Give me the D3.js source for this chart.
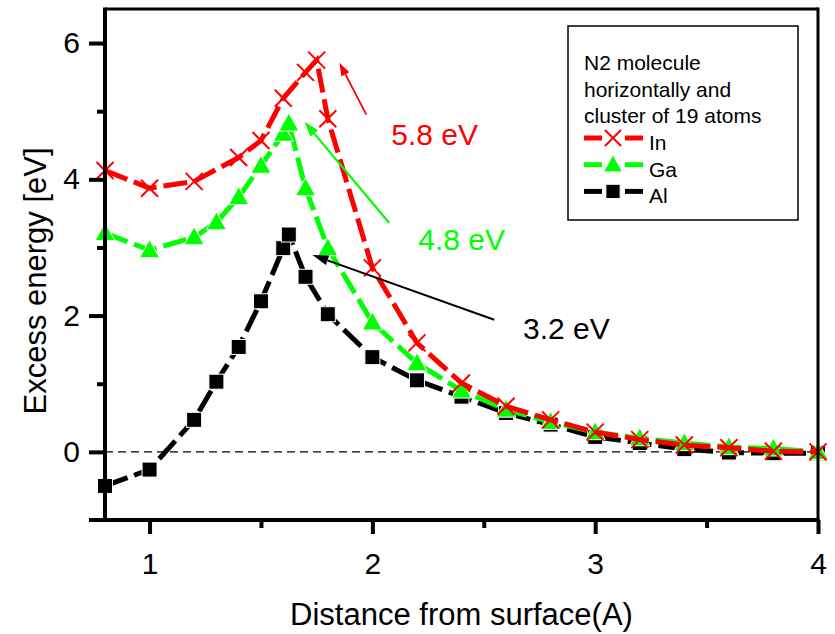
<!DOCTYPE html>
<html><head><meta charset="utf-8">
<script src="https://cdn.jsdelivr.net/npm/d3@7"></script>
<style>body{margin:0;background:#fff;} text{font-family:"Liberation Sans",Arial,sans-serif;}</style>
</head><body>
<svg id="c" width="835" height="634"></svg>
<script>
const xIn = [0.8,1.0,1.2,1.4,1.5,1.6,1.7,1.75,1.8,2.0,2.2,2.4,2.6,2.8,3.0,3.2,3.4,3.6,3.8,4.0];
const yIn = [4.13,3.87,3.97,4.32,4.57,5.19,5.57,5.75,4.89,2.70,1.60,1.01,0.67,0.47,0.29,0.18,0.10,0.06,0.01,0.00];
const xGa = [0.8,1.0,1.2,1.3,1.4,1.5,1.6,1.625,1.7,1.8,2.0,2.2,2.4,2.6,2.8,3.0,3.2,3.4,3.6,3.8,4.0];
const yGa = [3.21,2.96,3.15,3.37,3.74,4.20,4.67,4.82,3.87,2.99,1.90,1.30,0.90,0.62,0.44,0.29,0.20,0.13,0.07,0.05,0.00];
const xAl = [0.8,1.0,1.2,1.3,1.4,1.5,1.6,1.625,1.7,1.8,2.0,2.2,2.4,2.6,2.8,3.0,3.2,3.4,3.6,3.8,4.0];
const yAl = [-0.50,-0.26,0.47,1.03,1.54,2.21,2.99,3.19,2.57,2.02,1.39,1.05,0.81,0.57,0.40,0.22,0.13,0.04,-0.01,-0.02,-0.02];
const xTicks = [1,2,3,4];
const xMinor = [1.5,2.5,3.5];
const yTicks = [0,2,4,6];
const yMinor = [1,3,5];
const legendTitle = ["N2 molecule","horizontally and","cluster of 19 atoms"];
const seriesNames = ["In","Ga","Al"];
const annLabels = ["5.8 eV","4.8 eV","3.2 eV"];
const annLabelPos = [[2.085,4.50],[2.206,2.96],[2.676,1.66]];
const annArrows = [[[1.973,4.95],[1.852,5.71]],[[2.076,3.36],[1.696,4.84]],[[2.547,1.94],[1.731,2.89]]];

const svg = d3.select("#c");
const L=105,R=818,T=9,B=520;
const x = d3.scaleLinear().domain([0.8,4]).range([L,R]);
const y = d3.scaleLinear().domain([-1,6.5]).range([B,T]);
const RED="#ff0000", GREEN="#00ff00", BLACK="#000000";

// zero line
svg.append("line").attr("x1",L).attr("x2",R).attr("y1",y(0)).attr("y2",y(0))
  .attr("stroke","#000").attr("stroke-width",1.3).attr("stroke-dasharray","8,5");

const series = [
  {name:"Al", xs:xAl, ys:yAl, color:BLACK, sym:"square"},
  {name:"Ga", xs:xGa, ys:yGa, color:GREEN, sym:"triangle"},
  {name:"In", xs:xIn, ys:yIn, color:RED, sym:"x"}
];
const line = d3.line().x(d=>x(d[0])).y(d=>y(d[1]));
function drawSym(g, sym, color, cx, cy, scale){
  scale = scale||1;
  if(sym==="square"){
    const s=15*scale;
    g.append("rect").attr("x",cx-s/2).attr("y",cy-s/2).attr("width",s).attr("height",s)
      .attr("fill",color).attr("stroke","#fff").attr("stroke-width",1);
  } else if(sym==="triangle"){
    const w=20*scale,h=18*scale;
    g.append("path").attr("d",`M${cx},${cy-h*0.58}L${cx+w/2},${cy+h*0.42}L${cx-w/2},${cy+h*0.42}Z`)
      .attr("fill",color).attr("stroke","#fff").attr("stroke-width",1);
  } else {
    const s=8.5*scale;
    g.append("path").attr("d",`M${cx-s},${cy-s}L${cx+s},${cy+s}M${cx-s},${cy+s}L${cx+s},${cy-s}`)
      .attr("stroke",color).attr("stroke-width",2).attr("fill","none");
  }
}
series.forEach(s=>{
  const pts = s.xs.map((v,i)=>[v,s.ys[i]]);
  svg.append("path").datum(pts).attr("d",line).attr("fill","none")
    .attr("stroke",s.color).attr("stroke-width",5).attr("stroke-dasharray","24,7");
  const g = svg.append("g");
  pts.forEach(p=>drawSym(g,s.sym,s.color,x(p[0]),y(p[1])));
});

// annotations
const annColors=[RED,GREEN,BLACK];
const headLen=[13,15,16], headW=[9,10,10], lw=[1.8,2.2,2];
annArrows.forEach((a,i)=>{
  const x1=x(a[0][0]),y1=y(a[0][1]),x2=x(a[1][0]),y2=y(a[1][1]);
  const ang=Math.atan2(y2-y1,x2-x1);
  const bx=x2-headLen[i]*Math.cos(ang), by=y2-headLen[i]*Math.sin(ang);
  svg.append("line").attr("x1",x1).attr("y1",y1).attr("x2",bx).attr("y2",by)
    .attr("stroke",annColors[i]).attr("stroke-width",lw[i]);
  const px=-Math.sin(ang)*headW[i]/2, py=Math.cos(ang)*headW[i]/2;
  svg.append("path").attr("d",`M${x2},${y2}L${bx+px},${by+py}L${bx-px},${by-py}Z`).attr("fill",annColors[i]);
});
annLabels.forEach((t,i)=>{
  svg.append("text").attr("x",x(annLabelPos[i][0])).attr("y",y(annLabelPos[i][1]))
    .attr("font-size",30).attr("fill",annColors[i]).text(t);
});

// axes
const ax = svg.append("g").attr("transform",`translate(0,${B})`)
  .call(d3.axisBottom(x).tickValues(xTicks).tickSize(14).tickPadding(19).tickFormat(d3.format("d")));
ax.select(".domain").remove();
ax.selectAll(".tick line").attr("stroke-width",4);
ax.selectAll("text").attr("font-size",30).attr("font-family","Liberation Sans, Arial");
const axm = svg.append("g").attr("transform",`translate(0,${B})`)
  .call(d3.axisBottom(x).tickValues(xMinor).tickSize(8).tickFormat(""));
axm.select(".domain").remove(); axm.selectAll(".tick line").attr("stroke-width",4);

const ay = svg.append("g").attr("transform",`translate(${L},0)`)
  .call(d3.axisLeft(y).tickValues(yTicks).tickSize(16).tickPadding(9).tickFormat(d3.format("d")));
ay.select(".domain").remove();
ay.selectAll(".tick line").attr("stroke-width",4);
ay.selectAll("text").attr("font-size",30).attr("font-family","Liberation Sans, Arial");
const aym = svg.append("g").attr("transform",`translate(${L},0)`)
  .call(d3.axisLeft(y).tickValues(yMinor).tickSize(8).tickFormat(""));
aym.select(".domain").remove(); aym.selectAll(".tick line").attr("stroke-width",4);

// frame
svg.append("line").attr("x1",L).attr("x2",R).attr("y1",T).attr("y2",T).attr("stroke","#000").attr("stroke-width",3);
svg.append("line").attr("x1",R).attr("x2",R).attr("y1",T-1.5).attr("y2",B).attr("stroke","#000").attr("stroke-width",3);
svg.append("line").attr("x1",L).attr("x2",L).attr("y1",T-1.5).attr("y2",B+2).attr("stroke","#000").attr("stroke-width",4);
svg.append("line").attr("x1",L-16).attr("x2",R+1.5).attr("y1",B).attr("y2",B).attr("stroke","#000").attr("stroke-width",4);

// titles
svg.append("text").attr("x",(L+R)/2).attr("y",625).attr("text-anchor","middle")
  .attr("font-size",31).text("Distance from surface(A)");
svg.append("text").attr("transform",`translate(46,281) rotate(-90)`).attr("text-anchor","middle")
  .attr("font-size",31).text("Excess energy [eV]");

// legend
const lg = svg.append("g");
lg.append("rect").attr("x",568).attr("y",26).attr("width",230).attr("height",194)
  .attr("fill","#fff").attr("stroke","#000").attr("stroke-width",1.5);
legendTitle.forEach((t,i)=>{
  lg.append("text").attr("x",584).attr("y",70+i*26.5).attr("font-size",21).text(t);
});
const legSeries=[series[2],series[1],series[0]];
legSeries.forEach((s,i)=>{
  const cy=138+i*26.7;
  lg.append("line").attr("x1",584).attr("x2",602).attr("y1",cy).attr("y2",cy).attr("stroke",s.color).attr("stroke-width",5);
  lg.append("line").attr("x1",625).attr("x2",643).attr("y1",cy).attr("y2",cy).attr("stroke",s.color).attr("stroke-width",5);
  drawSym(lg,s.sym,s.color,613,cy,0.95);
  lg.append("text").attr("x",649).attr("y",cy+12).attr("font-size",21).text(seriesNames[i]);
});
</script>
</body></html>
